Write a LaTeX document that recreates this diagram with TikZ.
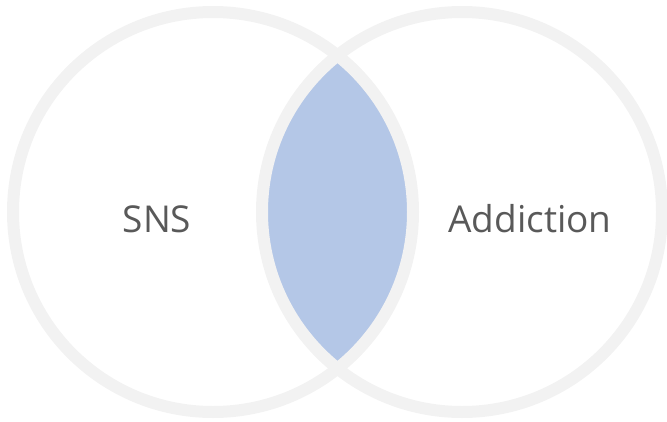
\documentclass[tikz,border=0pt]{standalone}
\usepackage{fontspec}
\setmainfont{Open Sans}
\usetikzlibrary{positioning}
\definecolor{ringgray}{HTML}{F2F2F2}
\definecolor{lensblue}{HTML}{B4C7E7}
\definecolor{labelgray}{HTML}{595959}

\begin{document}
\begin{tikzpicture}[x=1pt, y=-1pt]
        % Define styles for shapes
        \tikzstyle{ring} = [draw=ringgray, circle, line width=12pt, minimum size=400pt, inner sep=0pt]
        \tikzstyle{setlabel} = [text=labelgray, font=\fontsize{37}{40}\selectfont]
        \useasboundingbox (0,0) rectangle (667,421);
        % Fill the overlap
        \begin{scope}
            \clip (213,212) circle (200);
            \fill[lensblue] (462,212) circle (200);
        \end{scope}
        % Draw shapes
        \node[ring] (snsring) at (213,212) {};
        \node[ring] (addring) at (462,212) {};
        % Draw labels
        \node[setlabel] (sns) at (157,219) {SNS};
        \node[setlabel] (addiction) at (530,219) {Addiction};
    \end{tikzpicture}
\end{document}
